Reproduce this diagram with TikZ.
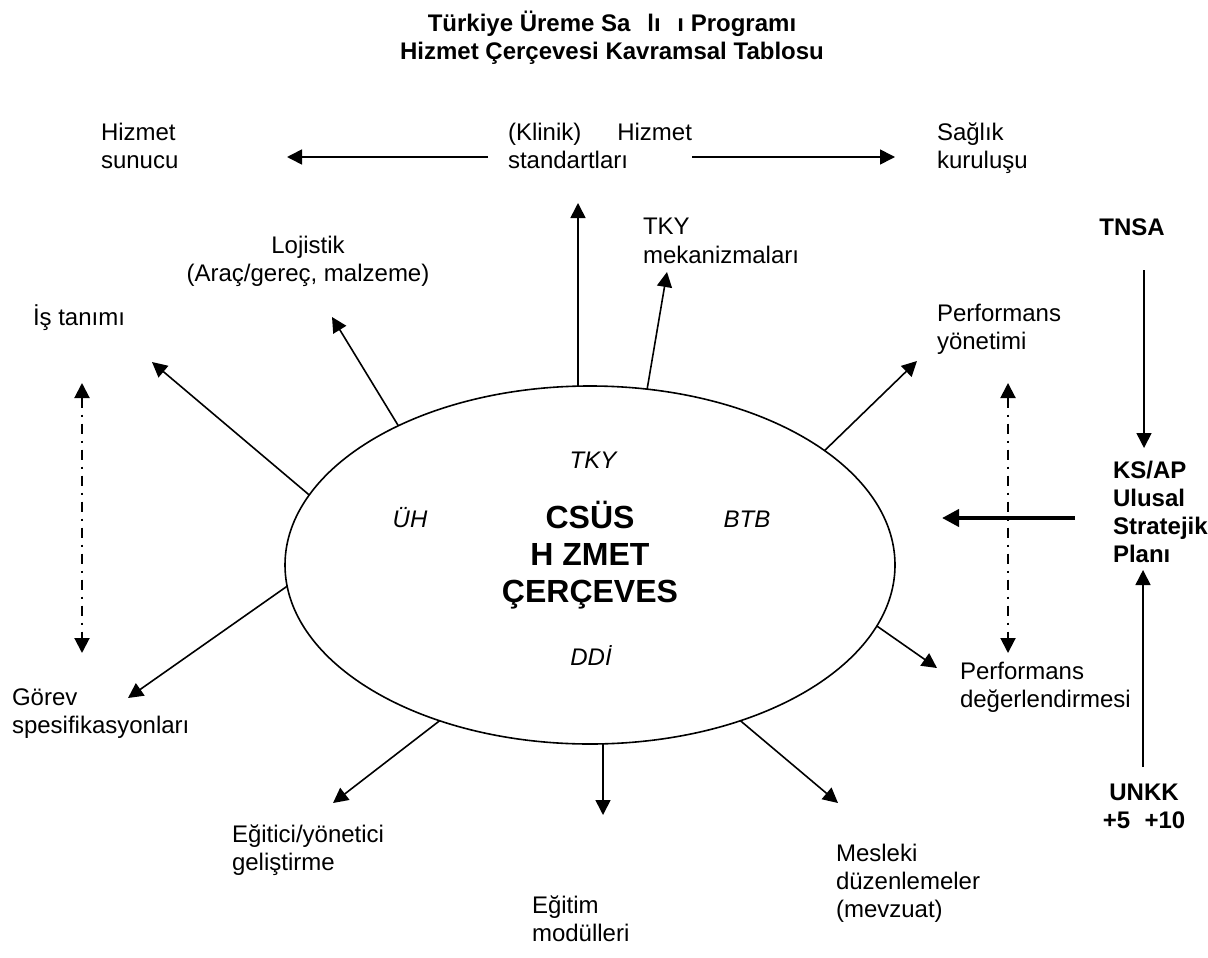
\documentclass[tikz,border=0pt]{standalone}
\usepackage{fontspec}
\setmainfont{Liberation Sans}
\usetikzlibrary{arrows.meta}
\usetikzlibrary{shapes.geometric}
\usetikzlibrary{positioning}

\begin{document}
\begin{tikzpicture}[x=0.5pt, y=-0.5pt,
    every node/.style={inner sep=0pt, outer sep=0pt, align=left, font=\fontsize{12}{14}\selectfont},
    lbl/.style={anchor=base west},
    ctr/.style={anchor=base, align=center},
    kalin/.style={font=\fontsize{12}{14}\selectfont\bfseries},
    egik/.style={anchor=base, font=\fontsize{12}{14}\selectfont\itshape},
    ok/.style={-{Triangle[length=7.5pt, width=7.5pt]}, line width=0.8pt},
    kalinok/.style={-{Triangle[length=8.5pt, width=8.5pt]}, line width=2pt},
    noktali/.style={{Triangle[length=7.5pt, width=7.5pt]}-{Triangle[length=7.5pt, width=7.5pt]}, line width=1pt, dash pattern=on 5pt off 3.5pt on 1pt off 3.5pt}]

        % Page frame
        \useasboundingbox (0,0) rectangle (1208,957);

        % Title (base = last line)
        \node[ctr, font=\fontsize{12}{14}\selectfont\bfseries] (baslik) at (612,60)
          {Türkiye Üreme Sa\hspace{0.7em}lı\hspace{0.7em}ı Programı\\Hizmet Çerçevesi Kavramsal Tablosu};

        % Central ellipse and its texts
        \node[draw, ellipse, line width=0.8pt, minimum width=305pt, minimum height=179pt] (csus) at (590,565) {};
        \node[ctr, font=\fontsize{16}{18.5}\selectfont\bfseries] (cerceve) at (590,602) {CSÜS\\H ZMET\\ÇERÇEVES};
        \node[egik] (tky) at (593,468) {TKY};
        \node[egik] (uh) at (410,527) {ÜH};
        \node[egik] (btb) at (747,527) {BTB};
        \node[egik] (ddi) at (591,665) {DDİ};

        % Outer labels
        \node[lbl] (sunucu) at (101,169) {Hizmet\\sunucu};
        \node[lbl] (standart) at (508,169) {(Klinik)\hspace{1.5em}Hizmet\\standartları};
        \node[lbl] (kurulus) at (937,169) {Sağlık\\kuruluşu};
        \node[ctr] (lojistik) at (308,281) {Lojistik\\(Araç/gereç, malzeme)};
        \node[lbl] (tkymek) at (643,263) {TKY\\mekanizmaları};
        \node[lbl] (istanimi) at (33,325) {İş tanımı};
        \node[lbl] (perfyon) at (937,349) {Performans\\yönetimi};
        \node[lbl] (perfdeg) at (960,707) {Performans\\değerlendirmesi};
        \node[lbl] (gorev) at (12,733) {Görev\\spesifikasyonları};
        \node[lbl] (egitici) at (232,870) {Eğitici/yönetici\\geliştirme};
        \node[lbl] (egitim) at (532,941) {Eğitim\\modülleri};
        \node[lbl] (mesleki) at (836,917) {Mesleki\\düzenlemeler\\(mevzuat)};

        % Right column
        \node[ctr, kalin] (tnsa) at (1132,235) {TNSA};
        \node[lbl, kalin] (ksap) at (1113,562) {KS/AP\\Ulusal\\Stratejik\\Planı};
        \node[ctr, kalin] (unkk) at (1144,828) {UNKK\\+5\hspace{0.6em}+10};

        % Arrow ends
        \coordinate (lojuc) at (332,317);
        \coordinate (isuc) at (152,362);
        \coordinate (tkyuc) at (667,272);
        \coordinate (yonuc) at (917,361);
        \coordinate (deguc) at (937,668);
        \coordinate (meslekuc) at (838,803);
        \coordinate (egiticiuc) at (333,803);
        \coordinate (gorevuc) at (128,698);
        \coordinate (klinikuc) at (578,203);
        \coordinate (egitimuc) at (603,815);

        % Arrows leaving the ellipse
        \foreach \aci/\uc in {144.2/lojuc, 166.1/isuc, 72.6/tkyuc, 26.4/yonuc, -12.6/deguc,
                              -46.7/meslekuc, 226.7/egiticiuc, 184.4/gorevuc} {
          \draw[ok] (csus.\aci) -- (\uc);
        }
        \draw[ok] (csus.north -| klinikuc) -- (klinikuc);
        \draw[ok] (csus.south -| egitimuc) -- (egitimuc);

        % Standards to provider and facility
        \coordinate (solbas) at (488,157);
        \coordinate (soluc) at (287,157);
        \coordinate (sagbas) at (692,157);
        \coordinate (saguc) at (895,157);
        \draw[ok] (solbas) -- (soluc);
        \draw[ok] (sagbas) -- (saguc);

        % Dash-dot links
        \coordinate (isust) at (82,383);
        \coordinate (isalt) at (82,653);
        \coordinate (perfust) at (1008,383);
        \coordinate (perfalt) at (1008,653);
        \draw[noktali] (isust) -- (isalt);
        \draw[noktali] (perfust) -- (perfalt);

        % Inputs of the strategic plan
        \coordinate (tnsabas) at (1144,270);
        \coordinate (tnsauc) at (1144,448);
        \coordinate (unkkbas) at (1143,767);
        \coordinate (unkkuc) at (1143,570);
        \coordinate (planbas) at (1075,518);
        \coordinate (planuc) at (942,518);
        \draw[ok] (tnsabas) -- (tnsauc);
        \draw[ok] (unkkbas) -- (unkkuc);
        \draw[kalinok] (planbas) -- (planuc);

      \end{tikzpicture}
\end{document}
